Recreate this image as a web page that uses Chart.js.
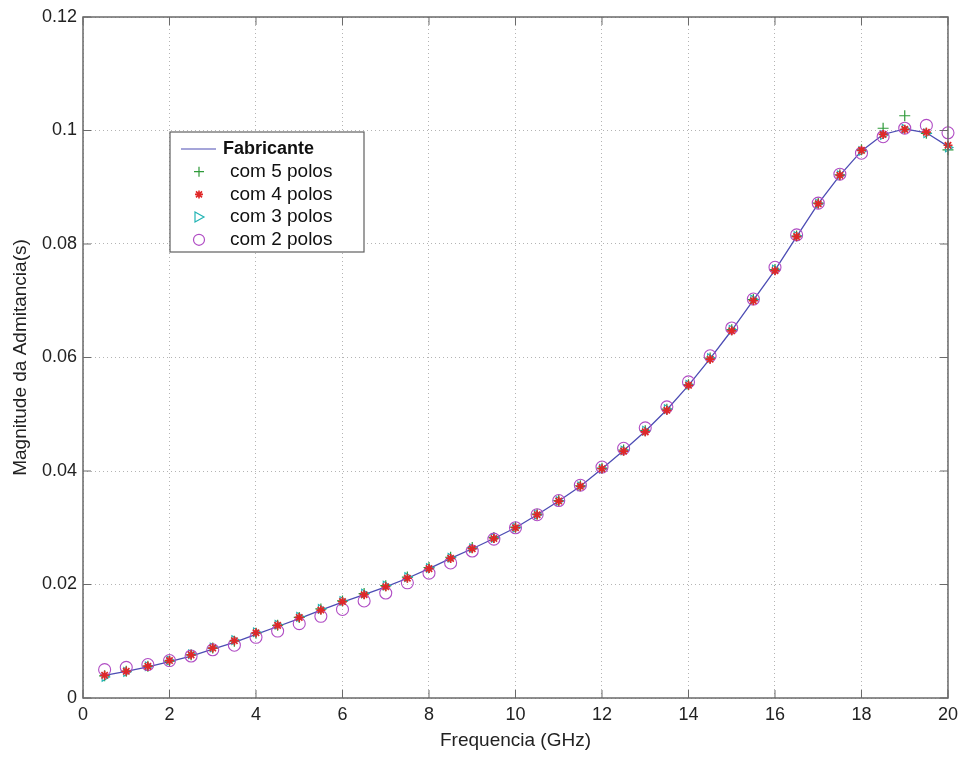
<!DOCTYPE html>
<html>
<head>
<meta charset="utf-8">
<script src="https://cdn.jsdelivr.net/npm/chart.js@4/dist/chart.umd.min.js"></script>
<style>
html, body { margin: 0; padding: 0; background: #fff; }
#wrap { width: 964px; height: 758px; }
</style>
</head>
<body>
<div id="wrap"><canvas id="admChart" width="964" height="758"></canvas></div>
<script>
// frequencia (GHz)
var freq = [0.5, 1, 1.5, 2, 2.5, 3, 3.5, 4, 4.5, 5, 5.5, 6, 6.5, 7, 7.5, 8, 8.5, 9, 9.5, 10,
	10.5, 11, 11.5, 12, 12.5, 13, 13.5, 14, 14.5, 15, 15.5, 16, 16.5, 17, 17.5, 18, 18.5, 19, 19.5, 20];

var fabricante = [0.0040, 0.0047, 0.0055, 0.0064, 0.0074, 0.0086, 0.0098, 0.0112, 0.0126, 0.0140,
	0.0155, 0.0169, 0.0182, 0.0196, 0.0211, 0.0228, 0.0246, 0.0263, 0.0281, 0.0300,
	0.0323, 0.0347, 0.0373, 0.0404, 0.0436, 0.0470, 0.0508, 0.0551, 0.0598, 0.0648,
	0.0701, 0.0754, 0.0813, 0.0871, 0.0921, 0.0964, 0.0993, 0.1003, 0.0996, 0.0972];

var polos5 = [0.0039, 0.0047, 0.0056, 0.0065, 0.0076, 0.0088, 0.0100, 0.0114, 0.0128, 0.0142,
	0.0157, 0.0171, 0.0184, 0.0198, 0.0213, 0.0230, 0.0248, 0.0265, 0.0283, 0.0301,
	0.0324, 0.0348, 0.0374, 0.0405, 0.0437, 0.0471, 0.0509, 0.0552, 0.0599, 0.0649,
	0.0702, 0.0755, 0.0814, 0.0872, 0.0922, 0.0966, 0.1004, 0.1026, 0.0995, 0.0966];

var polos4 = [0.0040, 0.0047, 0.0056, 0.0066, 0.0076, 0.0088, 0.0101, 0.0115, 0.0128, 0.0142,
	0.0155, 0.0170, 0.0182, 0.0196, 0.0211, 0.0228, 0.0246, 0.0263, 0.0281, 0.0300,
	0.0323, 0.0347, 0.0373, 0.0404, 0.0435, 0.0469, 0.0507, 0.0551, 0.0597, 0.0647,
	0.0700, 0.0753, 0.0813, 0.0871, 0.0921, 0.0965, 0.0993, 0.1002, 0.0997, 0.0974];

var polos3 = [0.0037, 0.0046, 0.0056, 0.0066, 0.0077, 0.0089, 0.0102, 0.0116, 0.0129, 0.0143,
	0.0157, 0.0171, 0.0184, 0.0198, 0.0213, 0.0229, 0.0247, 0.0264, 0.0282, 0.0300,
	0.0323, 0.0347, 0.0373, 0.0404, 0.0436, 0.0471, 0.0509, 0.0552, 0.0599, 0.0649,
	0.0702, 0.0755, 0.0814, 0.0871, 0.0921, 0.0964, 0.0992, 0.1003, 0.0995, 0.0970];

var polos2 = [0.0050, 0.0054, 0.0059, 0.0066, 0.0074, 0.0085, 0.0093, 0.0107, 0.0118, 0.0131,
	0.0144, 0.0156, 0.0171, 0.0185, 0.0203, 0.0220, 0.0238, 0.0259, 0.0280, 0.0300,
	0.0323, 0.0348, 0.0375, 0.0407, 0.0440, 0.0476, 0.0513, 0.0557, 0.0603, 0.0652,
	0.0703, 0.0759, 0.0816, 0.0872, 0.0923, 0.0960, 0.0989, 0.1004, 0.1009, 0.0996];

var xTicks = [0, 2, 4, 6, 8, 10, 12, 14, 16, 18, 20];
var yTicks = [0, 0.02, 0.04, 0.06, 0.08, 0.1, 0.12];
var legendLabels = ['Fabricante', 'com 5 polos', 'com 4 polos', 'com 3 polos', 'com 2 polos'];

function pts(ys) {
	var out = [];
	for (var i = 0; i < freq.length; i++) out.push({ x: freq[i], y: ys[i] });
	return out;
}

var fontFam = '"Liberation Sans", Arial, sans-serif';
var lineColor = '#4c4cb4';
var greenColor = '#2f9a3a';
var redColor = '#e02828';
var cyanColor = '#22b4b4';
var magColor = '#b04cc4';

// moldura, marcas de escala e legenda (estilo matlab)
var framePlugin = {
	id: 'frame',
	afterDraw: function(chart) {
		var c = chart.ctx, a = chart.chartArea;
		var sx = chart.scales.x, sy = chart.scales.y;
		c.save();
		c.strokeStyle = '#6a6a6a';
		c.lineWidth = 1.5;
		c.strokeRect(a.left, a.top, a.right - a.left, a.bottom - a.top);
		c.lineWidth = 1;
		c.beginPath();
		xTicks.forEach(function(v) {
			var px = sx.getPixelForValue(v);
			c.moveTo(px, a.bottom); c.lineTo(px, a.bottom - 8);
			c.moveTo(px, a.top); c.lineTo(px, a.top + 8);
		});
		yTicks.forEach(function(v) {
			var py = sy.getPixelForValue(v);
			c.moveTo(a.left, py); c.lineTo(a.left + 8, py);
			c.moveTo(a.right, py); c.lineTo(a.right - 8, py);
		});
		c.stroke();

		// legenda
		var lx = 170, ly = 132, lw = 194, lh = 120;
		c.fillStyle = '#fff';
		c.fillRect(lx, ly, lw, lh);
		c.strokeStyle = '#606060';
		c.lineWidth = 1.2;
		c.strokeRect(lx, ly, lw, lh);
		c.textBaseline = 'middle';
		for (var i = 0; i < legendLabels.length; i++) {
			var yy = ly + 17 + i * 22.7;
			var mx = lx + 29;
			c.lineWidth = 1.2;
			if (i == 0) {
				c.strokeStyle = lineColor;
				c.beginPath(); c.moveTo(lx + 11, yy); c.lineTo(lx + 46, yy); c.stroke();
				c.font = 'bold 18px ' + fontFam;
				c.fillStyle = '#111';
				c.fillText(legendLabels[i], lx + 53, yy);
				continue;
			}
			if (i == 1) {
				c.strokeStyle = greenColor;
				c.beginPath(); c.moveTo(mx - 5, yy); c.lineTo(mx + 5, yy);
				c.moveTo(mx, yy - 5); c.lineTo(mx, yy + 5); c.stroke();
			} else if (i == 2) {
				c.strokeStyle = redColor;
				c.lineWidth = 1.6;
				c.beginPath(); c.moveTo(mx - 4, yy); c.lineTo(mx + 4, yy);
				c.moveTo(mx, yy - 4); c.lineTo(mx, yy + 4);
				c.moveTo(mx - 3, yy - 3); c.lineTo(mx + 3, yy + 3);
				c.moveTo(mx - 3, yy + 3); c.lineTo(mx + 3, yy - 3); c.stroke();
			} else if (i == 3) {
				c.strokeStyle = cyanColor;
				c.beginPath(); c.moveTo(mx - 4, yy - 5); c.lineTo(mx + 5, yy); c.lineTo(mx - 4, yy + 5); c.closePath(); c.stroke();
			} else {
				c.strokeStyle = magColor;
				c.beginPath(); c.arc(mx, yy, 5.5, 0, Math.PI * 2); c.stroke();
			}
			c.font = '19px ' + fontFam;
			c.fillStyle = '#111';
			c.fillText(legendLabels[i], lx + 60, yy);
		}
		c.restore();
	}
};

var ctx = document.getElementById('admChart');
var admChart = new Chart(ctx, {
	type: 'scatter',
	data: {
		datasets: [{
			label: 'Fabricante',
			data: pts(fabricante),
			showLine: true,
			borderColor: lineColor,
			borderWidth: 1.3,
			pointRadius: 0,
			clip: false,
			order: 5
		}, {
			label: 'com 5 polos',
			data: pts(polos5),
			pointStyle: 'cross',
			pointRadius: 5.5,
			borderColor: greenColor,
			backgroundColor: greenColor,
			pointBorderWidth: 1.2,
			clip: false,
			order: 4
		}, {
			label: 'com 4 polos',
			data: pts(polos4),
			pointStyle: 'star',
			pointRadius: 4.5,
			borderColor: redColor,
			backgroundColor: redColor,
			pointBorderWidth: 1.7,
			clip: false,
			order: 1
		}, {
			label: 'com 3 polos',
			data: pts(polos3),
			pointStyle: 'triangle',
			rotation: 90,
			pointRadius: 5,
			borderColor: cyanColor,
			backgroundColor: 'rgba(0,0,0,0)',
			pointBorderWidth: 1.1,
			clip: false,
			order: 3
		}, {
			label: 'com 2 polos',
			data: pts(polos2),
			pointStyle: 'circle',
			pointRadius: 6,
			borderColor: magColor,
			backgroundColor: 'rgba(0,0,0,0)',
			pointBorderWidth: 1.1,
			clip: false,
			order: 2
		}]
	},
	options: {
		responsive: false,
		animation: false,
		layout: { padding: { top: 17, right: 16, left: 9, bottom: 6 } },
		plugins: {
			legend: { display: false },
			tooltip: { enabled: false }
		},
		scales: {
			x: {
				type: 'linear',
				min: 0,
				max: 20,
				afterBuildTicks: function(scale) {
					scale.ticks = xTicks.map(function(v) { return { value: v }; });
				},
				afterFit: function(scale) { scale.height = 54; },
				grid: {
					color: '#b4b4b4',
					lineWidth: 1,
					drawTicks: false
				},
				border: { display: false, dash: [1, 3] },
				ticks: {
					color: '#222',
					padding: 6,
					maxRotation: 0,
					font: { family: fontFam, size: 18 }
				},
				title: {
					display: true,
					text: 'Frequencia (GHz)',
					color: '#222',
					padding: { top: 0, bottom: 0 },
					font: { family: fontFam, size: 19 }
				}
			},
			y: {
				type: 'linear',
				min: 0,
				max: 0.12,
				afterBuildTicks: function(scale) {
					scale.ticks = yTicks.map(function(v) { return { value: v }; });
				},
				afterFit: function(scale) { scale.width = 74; },
				grid: {
					color: '#b4b4b4',
					lineWidth: 1,
					drawTicks: false
				},
				border: { display: false, dash: [1, 3] },
				ticks: {
					color: '#222',
					padding: 6,
					font: { family: fontFam, size: 18 },
					callback: function(v) { return String(Math.round(v * 100) / 100); }
				},
				title: {
					display: true,
					text: 'Magnitude da Admitancia(s)',
					color: '#222',
					padding: { top: 0, bottom: 0 },
					font: { family: fontFam, size: 19 }
				}
			}
		}
	},
	plugins: [framePlugin]
});
</script>
</body>
</html>
